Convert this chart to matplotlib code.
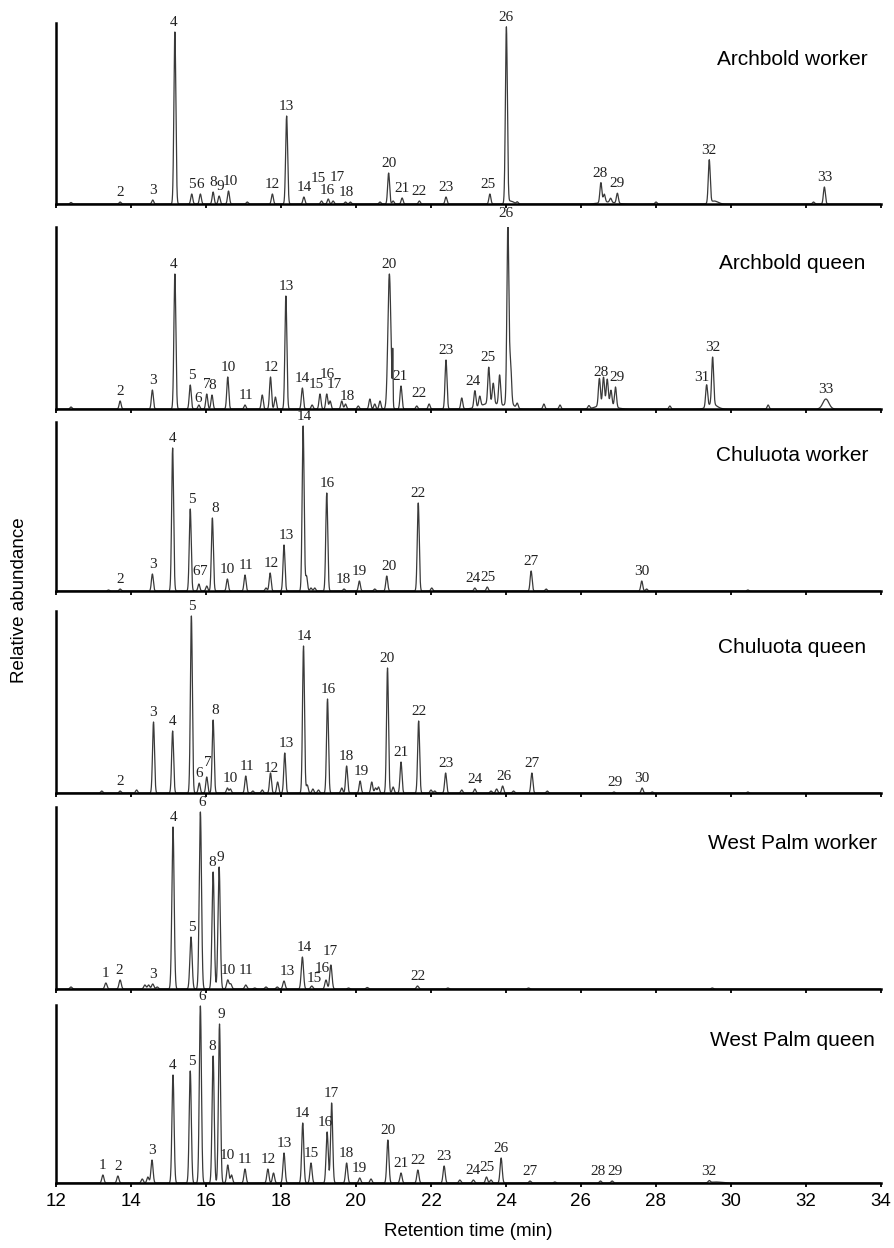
import numpy as np
import matplotlib.pyplot as plt

plt.rcParams['font.family'] = ['Liberation Sans', 'DejaVu Sans']

names = ["Archbold worker", "Archbold queen", "Chuluota worker",
         "Chuluota queen", "West Palm worker", "West Palm queen"]

# full scale of each panel (arbitrary abundance units)
full_scale = [181, 182, 169, 182, 182, 178]
sigmas = [0.026, 0.026, 0.026, 0.026, 0.03, 0.028]

# --- Archbold worker
aw_t = [12.4, 13.71, 14.58, 15.17, 15.62, 15.85, 16.19, 16.35, 16.6, 17.1, 17.77, 18.15,
        18.61, 19.08, 19.26, 19.39, 19.72, 19.85, 20.64, 20.87, 20.99, 21.23, 21.69,
        22.4, 23.57, 24.01, 24.3, 26.53, 26.62, 26.79, 26.97, 28.0, 29.42, 32.2, 32.49]
aw_h = [1.5, 2, 4, 172, 10, 10, 12, 8, 13, 2, 10, 88,
        7, 3, 5, 3, 2, 2, 2, 31, 3, 6, 3,
        7, 10, 176, 2, 20, 8, 4, 10, 2, 43, 2, 17]
aw_broad = [(24.12, 3, 0.08), (29.55, 3, 0.1), (26.7, 2, 0.2)]
aw_lab = [2, 3, 4, 5, 6, 8, 9, 10, 12, 13, 14, 15, 16, 17, 18, 20, 21, 22, 23, 25, 26, 28, 29, 32, 33]
aw_lab_t = [13.71, 14.58, 15.13, 15.62, 15.85, 16.19, 16.37, 16.66, 17.77, 18.15, 18.61, 18.99,
            19.23, 19.49, 19.75, 20.87, 21.23, 21.69, 22.4, 23.53, 24.0, 26.52, 26.97, 29.42, 32.49]
aw_extra = {15: 13, 16: -1, 17: 14}

# --- Archbold queen
aq_t = [12.4, 13.71, 14.57, 15.17, 15.58, 15.81, 16.02, 16.16, 16.58, 17.04, 17.5, 17.72,
        17.85, 18.13, 18.57, 18.83, 19.04, 19.22, 19.31, 19.62, 19.72, 20.06, 20.37, 20.5,
        20.64, 21.2, 21.62, 21.95, 22.4, 22.82, 23.17, 23.3, 23.54, 23.66, 23.83,
        24.05, 24.12, 24.3, 25.01, 25.44, 26.21, 26.49, 26.6, 26.7, 26.8, 26.92, 28.37,
        29.35, 29.51, 30.99]
aq_h = [2, 8, 19, 135, 24, 4, 15, 14, 32, 4, 14, 32,
        12, 113, 21, 4, 15, 15, 8, 8, 5, 3, 10, 5,
        8, 23, 3, 5, 49, 11, 17, 10, 36, 20, 30,
        178, 40, 5, 5, 4, 3, 27, 27, 25, 15, 20, 3,
        22, 47, 4]
aq_broad = [(20.89, 135, 0.04), (20.98, 50, 0.008), (23.6, 6, 0.25), (26.65, 5, 0.2),
            (29.5, 5, 0.12), (32.53, 10, 0.08), (24.1, 6, 0.1)]
aq_lab = [2, 3, 4, 5, 6, 7, 8, 10, 11, 12, 13, 14, 15, 16, 17, 18, 20, 21, 22, 23, 24, 25,
          26, 28, 29, 31, 32, 33]
aq_lab_t = [13.71, 14.58, 15.13, 15.63, 15.8, 16.02, 16.16, 16.6, 17.07, 17.73, 18.15, 18.58,
            18.95, 19.23, 19.43, 19.77, 20.89, 21.18, 21.69, 22.4, 23.13, 23.51, 24.0,
            26.53, 26.97, 29.22, 29.51, 32.53]
aq_extra = {6: -3, 16: 10, 17: 9, 18: -2, 22: 3, 31: 10, 28: -5}

# --- Chuluota worker
cw_t = [13.4, 13.71, 14.57, 15.11, 15.58, 15.81, 16.02, 16.17, 16.57, 17.04, 17.6, 17.71,
        18.08, 18.59, 18.68, 18.8, 18.9, 19.22, 19.68, 20.09, 20.5, 20.82, 21.66, 22.02,
        23.17, 23.5, 24.67, 25.07, 27.62, 27.75, 30.45]
cw_h = [1, 2, 17, 143, 82, 7, 5, 73, 12, 16, 3, 18,
        46, 165, 15, 3, 3, 98, 2, 10, 2, 15, 88, 3,
        3, 4, 20, 2, 10, 2, 1]
cw_broad = []
cw_lab = [2, 3, 4, 5, 6, 7, 8, 10, 11, 12, 13, 14, 16, 18, 19, 20, 22, 24, 25, 27, 30]
cw_lab_t = [13.71, 14.58, 15.11, 15.62, 15.75, 15.95, 16.24, 16.57, 17.06, 17.73, 18.15,
            18.61, 19.23, 19.66, 20.09, 20.87, 21.66, 23.13, 23.53, 24.67, 27.62]
cw_extra = {6: 3, 7: 5}

# --- Chuluota queen
cq_t = [13.22, 13.71, 14.15, 14.6, 15.11, 15.61, 15.82, 16.02, 16.19, 16.57, 16.65, 17.06,
        17.25, 17.5, 17.72, 17.91, 18.1, 18.6, 18.7, 18.85, 19.0, 19.24, 19.62, 19.75,
        20.11, 20.42, 20.52, 20.6, 20.84, 20.99, 21.2, 21.67, 22.0, 22.1, 22.39, 22.82,
        23.17, 23.6, 23.75, 23.91, 24.2, 24.69, 25.1, 26.88, 27.63, 27.9, 30.45]
cq_h = [2, 2, 3, 71, 62, 177, 10, 16, 73, 5, 4, 17,
        2, 3, 20, 11, 40, 147, 8, 4, 3, 94, 5, 27,
        12, 11, 5, 6, 125, 6, 31, 72, 3, 2, 20, 3,
        4, 2, 4, 7, 2, 20, 2, 1, 5, 1, 1]
cq_broad = []
cq_lab = [2, 3, 4, 5, 6, 7, 8, 10, 11, 12, 13, 14, 16, 18, 19, 20, 21, 22, 23, 24, 26, 27, 29, 30]
cq_lab_t = [13.71, 14.59, 15.11, 15.62, 15.82, 16.04, 16.24, 16.64, 17.09, 17.73, 18.15,
            18.61, 19.27, 19.75, 20.14, 20.84, 21.2, 21.67, 22.4, 23.17, 23.95, 24.69,
            26.91, 27.63]
cq_extra = {7: 5, 12: -5}

# --- West Palm worker
ww_t = [12.4, 13.33, 13.71, 14.37, 14.47, 14.58, 14.7, 15.12, 15.6, 15.85, 16.19, 16.35,
        16.58, 16.66, 17.06, 17.3, 17.6, 17.9, 18.08, 18.57, 18.82, 19.2, 19.33, 19.8,
        20.3, 21.64, 22.45, 24.6, 29.5]
ww_h = [2, 6, 9, 4, 4, 5, 2, 162, 52, 177, 117, 122,
        9, 5, 4, 1, 2, 2, 8, 32, 3, 9, 24, 1,
        1.5, 3, 1, 1, 1]
ww_broad = []
ww_lab = [1, 2, 3, 4, 5, 6, 8, 9, 10, 11, 13, 14, 15, 16, 17, 22]
ww_lab_t = [13.31, 13.69, 14.58, 15.13, 15.63, 15.89, 16.17, 16.39, 16.59, 17.07, 18.17,
            18.63, 18.89, 19.09, 19.31, 21.66]
ww_extra = {11: 4.5, 15: -2.5, 16: 3, 17: 4}

# --- West Palm queen
wq_t = [13.25, 13.65, 14.3, 14.45, 14.56, 15.12, 15.58, 15.85, 16.19, 16.36, 16.58, 16.68,
        17.04, 17.65, 17.8, 18.08, 18.58, 18.8, 19.23, 19.35, 19.75, 20.1, 20.4, 20.85,
        21.2, 21.65, 22.35, 22.77, 23.13, 23.48, 23.6, 23.87, 24.64, 25.3, 26.52, 26.83, 29.42]
wq_h = [8, 7, 4, 6, 23, 108, 112, 177, 127, 159, 18, 8,
        14, 14, 10, 30, 60, 20, 51, 80, 20, 5, 4, 43,
        10, 13, 17, 3, 3, 6, 3, 25, 2, 1, 2, 2, 2]
wq_broad = [(29.6, 1, 0.15)]
wq_lab = [1, 2, 3, 4, 5, 6, 8, 9, 10, 11, 12, 13, 14, 15, 16, 17, 18, 19, 20, 21, 22, 23,
          24, 25, 26, 27, 28, 29, 32]
wq_lab_t = [13.25, 13.65, 14.56, 15.12, 15.63, 15.89, 16.17, 16.41, 16.58, 17.04, 17.65,
            18.08, 18.58, 18.8, 19.18, 19.35, 19.75, 20.1, 20.85, 21.2, 21.65, 22.35,
            23.13, 23.48, 23.87, 24.64, 26.46, 26.9, 29.42]
wq_extra = {}

panels = [
    (aw_t, aw_h, aw_broad, aw_lab, aw_lab_t, aw_extra),
    (aq_t, aq_h, aq_broad, aq_lab, aq_lab_t, aq_extra),
    (cw_t, cw_h, cw_broad, cw_lab, cw_lab_t, cw_extra),
    (cq_t, cq_h, cq_broad, cq_lab, cq_lab_t, cq_extra),
    (ww_t, ww_h, ww_broad, ww_lab, ww_lab_t, ww_extra),
    (wq_t, wq_h, wq_broad, wq_lab, wq_lab_t, wq_extra),
]

# axes boxes in pixels from top: (top, bottom)
boxes = [(23, 204), (227, 409), (422, 591), (611, 793), (807, 989), (1005, 1183)]

W, H = 895, 1248
fig = plt.figure(figsize=(W / 100, H / 100), dpi=100)

x = np.linspace(12, 34, 8801)


def trace(ts, hs, broad, sig):
    y = np.zeros_like(x)
    for t, h in zip(ts, hs):
        y += h * np.exp(-0.5 * ((x - t) / sig) ** 2)
    for t, h, s in broad:
        y += h * np.exp(-0.5 * ((x - t) / s) ** 2)
    return y


for i, (ts, hs, broad, labs, lab_t, extra) in enumerate(panels):
    top, bot = boxes[i]
    ax = fig.add_axes([56 / W, 1 - bot / H, (881 - 56) / W, (bot - top) / H])
    y = trace(ts, hs, broad, sigmas[i])
    ax.plot(x, y, color='#3a3a3a', lw=0.9, solid_joinstyle='round')
    ax.set_xlim(12, 34)
    ax.set_ylim(0, full_scale[i])
    for side in ['top', 'right']:
        ax.spines[side].set_visible(False)
    ax.spines['left'].set_linewidth(1.8)
    ax.spines['bottom'].set_linewidth(1.8)
    ax.set_yticks([])
    ax.set_xticks(np.arange(12, 35, 2))
    ax.tick_params(axis='x', direction='out', length=3, width=1.3, pad=4,
                   labelsize=13.5, labelbottom=(i == len(panels) - 1))
    for n, t in zip(labs, lab_t):
        win = (x > t - 0.1) & (x < t + 0.1)
        yl = y[win].max() + 9.5 + extra.get(n, 0)
        ax.text(t, yl, str(n), ha='center', va='center', fontsize=11,
                family='Liberation Serif', color='#222222', clip_on=False)
    ax.text(31.63, 0.8, names[i], transform=ax.get_xaxis_transform(),
            ha='center', va='center', fontsize=15)

fig.text(20 / W, 1 - 600 / H, 'Relative abundance', rotation=90,
         ha='center', va='center', fontsize=13.5)
fig.text(468.5 / W, 1 - 1232 / H, 'Retention time (min)',
         ha='center', va='center', fontsize=13.5)

fig.savefig('out.png', dpi=100)
